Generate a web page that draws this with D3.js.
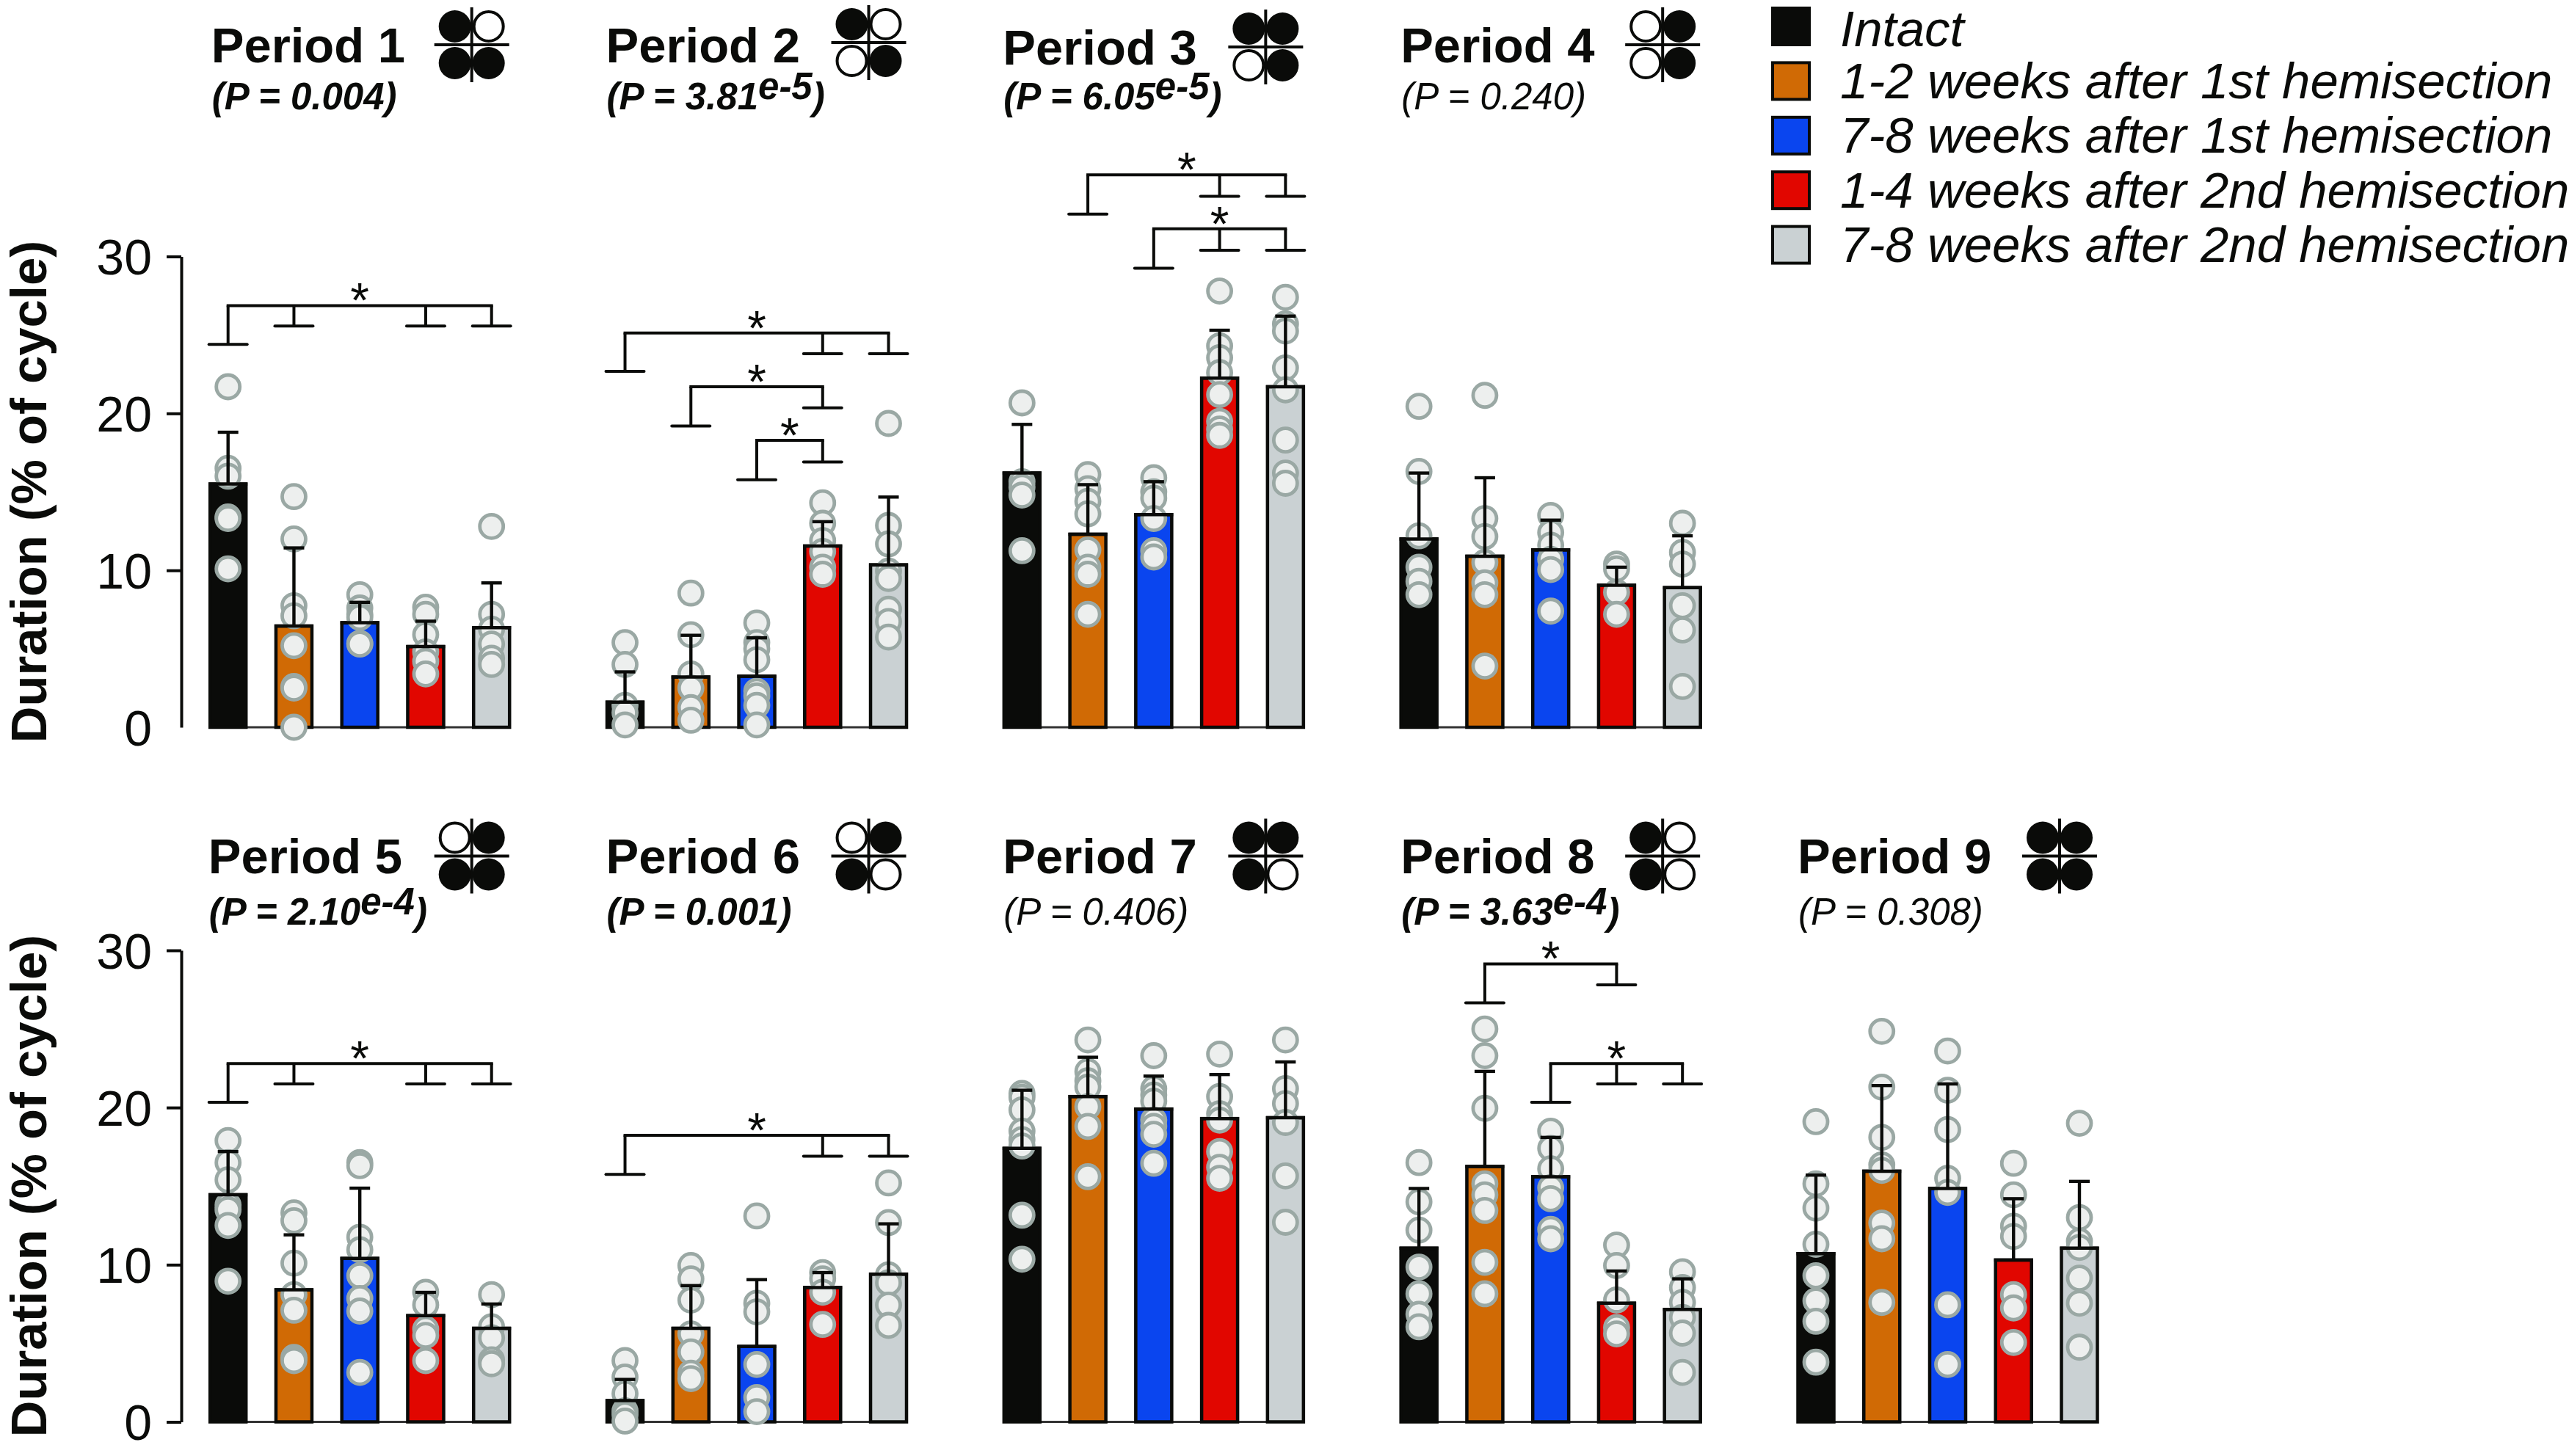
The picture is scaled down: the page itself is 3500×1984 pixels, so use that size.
<!DOCTYPE html>
<html>
<head>
  <meta charset="UTF-8">
  <title>Duration per period</title>
  <style>
    html, body { margin: 0; padding: 0; background: #fff; }
    svg { display: block; }
    text { font-family: "Liberation Sans", Arial, sans-serif; fill: #0a0b09; }
  </style>
</head>
<body>
  <svg id="chart" width="3500" height="1984"></svg>
  <script src="https://d3js.org/d3.v7.min.js"></script>
  <script>
    var groups = ["Intact", "1-2 weeks after 1st hemisection", "7-8 weeks after 1st hemisection", "1-4 weeks after 2nd hemisection", "7-8 weeks after 2nd hemisection"];
    var groupColors = ["#0a0b09", "#d06a05", "#0a45ef", "#e10600", "#cad1d3"];

    var periods = ["Period 1", "Period 2", "Period 3", "Period 4", "Period 5", "Period 6", "Period 7", "Period 8", "Period 9"];
    var pValues = ["0.004", "3.81", "6.05", "0.240", "2.10", "0.001", "0.406", "3.63", "0.308"];
    var pExponents = ["", "e-5", "e-5", "", "e-4", "", "", "e-4", ""];
    var pSignificant = [true, true, true, false, true, true, false, true, false];

    // limb pattern next to each title: TL, TR, BL, BR (1 = filled circle)
    var footfalls = [
      [1, 0, 1, 1], [1, 0, 0, 1], [1, 1, 0, 1], [0, 1, 0, 1], [0, 1, 1, 1],
      [0, 1, 1, 0], [1, 1, 1, 0], [1, 0, 1, 0], [1, 1, 1, 1]
    ];

    var yTicks = [0, 10, 20, 30];

    var means = [
      [15.5, 6.45, 6.66, 5.14, 6.35],
      [1.6, 3.2, 3.25, 11.55, 10.35],
      [16.2, 12.3, 13.55, 22.25, 21.7],
      [12, 10.9, 11.3, 9.05, 8.9],
      [14.45, 8.4, 10.4, 6.76, 5.95],
      [1.35, 5.95, 4.8, 8.55, 9.4],
      [17.4, 20.7, 19.9, 19.3, 19.35],
      [11.05, 16.25, 15.6, 7.55, 7.15],
      [10.7, 15.95, 14.85, 10.3, 11.05]
    ];

    var errorTops = [
      [18.8, 11.43, 7.96, 6.76, 9.2],
      [3.53, 5.86, 5.7, 13.1, 14.67],
      [19.3, 15.46, 15.65, 25.3, 26.2],
      [16.2, 15.9, 13.2, 10.2, 12.2],
      [17.2, 11.9, 14.87, 8.24, 7.5],
      [2.7, 8.67, 9.05, 9.5, 12.6],
      [21.1, 23.2, 22, 22.1, 22.9],
      [14.85, 22.3, 18.1, 9.6, 9.1],
      [15.7, 21.4, 21.5, 14.2, 15.3]
    ];

    var points = [
      [
        [21.7, 16.5, 16, 13.4, 13.3, 10.1],
        [14.7, 12, 7.75, 7.1, 5.2, 2.6, 2.5, 0],
        [8.45, 7.6, 7.2, 7, 5.35, 5.3],
        [7.65, 7.2, 5.9, 4.8, 4.2, 3.4],
        [12.8, 7.2, 6.25, 5.3, 4.4, 4]
      ],
      [
        [5.4, 4, 1.4, 0.93, 0.15],
        [8.55, 5.9, 3.4, 2.5, 1.25, 0.45],
        [6.65, 5.4, 5, 4.3, 2.3, 2, 1.4, 0.15],
        [14.3, 13, 11.9, 11.2, 10.2, 9.75],
        [19.36, 12.86, 11.68, 9.95, 9.48, 7.52, 6.74, 5.75]
      ],
      [
        [20.67, 15.65, 15.3, 14.8, 11.25],
        [16.1, 15.2, 14.4, 13.6, 11.3, 10.2, 9.75, 7.2],
        [15.9, 15, 14.6, 13.3, 11.25, 10.85],
        [27.8, 24.3, 23.55, 22.6, 21.2, 19.5, 19, 18.6],
        [27.4, 25.7, 25.25, 22.9, 21.5, 18.3, 16.2, 15.55]
      ],
      [
        [20.45, 16.3, 12.2, 10.2, 9.3, 8.45],
        [21.15, 13.3, 12.15, 10.5, 9.2, 8.45, 3.9],
        [13.5, 12.4, 11.6, 10.7, 10.05, 7.4],
        [10.4, 10.1, 8.6, 7.2],
        [13, 11.15, 10.4, 7.75, 6.2, 2.6]
      ],
      [
        [17.9, 16.5, 15.4, 13.8, 13.5, 12.5, 8.95],
        [13.3, 12.8, 10.1, 8.1, 7.1, 4.1, 3.9],
        [16.5, 16.3, 11.75, 10.95, 9.3, 7.85, 7.05, 3.15],
        [8.25, 7.45, 5.9, 5.5, 3.9],
        [8.1, 6.05, 5.35, 3.95, 3.7]
      ],
      [
        [3.9, 2.85, 1.8, 0.7, 0.45, 0.05],
        [9.95, 9.1, 7.75, 5.6, 4.45, 3.1, 2.75],
        [13.1, 7.55, 7, 3.65, 1.55, 0.65],
        [9.5, 9.1, 8.25, 6.2],
        [15.2, 12.68, 9.36, 8.85, 7.43, 6.14]
      ],
      [
        [20.9, 20.65, 19.85, 18.5, 17.96, 17.55, 13.15, 10.35],
        [24.3, 22.3, 21.7, 21.3, 20.05, 18.8, 15.6],
        [23.3, 21.2, 20.8, 20.4, 19.2, 18.8, 18.3, 16.45],
        [23.4, 20.7, 19.6, 19.2, 17.2, 16.2, 15.5],
        [24.3, 21.2, 20.25, 19.05, 15.65, 12.7]
      ],
      [
        [16.5, 14, 12.2, 9.85, 8.15, 6.85, 6.05],
        [25, 23.3, 19.95, 15.15, 14.45, 13.45, 10.15, 8.15],
        [18.5, 17.4, 16.1, 14.9, 14.2, 12.25, 11.65],
        [11.25, 9.95, 7.75, 6, 5.6],
        [9.55, 8.55, 7.6, 6.65, 5.65, 3.15]
      ],
      [
        [19.1, 15.15, 13.6, 11.3, 9.3, 7.7, 6.4, 3.8],
        [24.85, 21.3, 18.1, 16.35, 16, 12.65, 11.65, 7.6],
        [23.6, 21.1, 18.6, 15.5, 14.6, 7.45, 3.65],
        [16.45, 14.45, 12.45, 11.8, 8.1, 7.25, 5.05],
        [19, 13, 11.5, 11.1, 9.15, 7.55, 4.75]
      ]
    ];

    // significance brackets per period: line value, then [bar index, value where the drop ends]
    var brackets = [
      [{top: 26.87, drops: [[0, 24.4], [1, 25.57], [3, 25.57], [4, 25.57]]}],
      [
        {top: 25.13, drops: [[0, 22.68], [3, 23.8], [4, 23.8]]},
        {top: 21.7, drops: [[1, 19.2], [3, 20.36]]},
        {top: 18.28, drops: [[2, 15.77], [3, 16.9]]}
      ],
      [
        {top: 35.2, drops: [[1, 32.7], [3, 33.84], [4, 33.84]]},
        {top: 31.76, drops: [[2, 29.25], [3, 30.4], [4, 30.4]]}
      ],
      [],
      [{top: 22.8, drops: [[0, 20.33], [1, 21.5], [3, 21.5], [4, 21.5]]}],
      [{top: 18.23, drops: [[0, 15.75], [3, 16.9], [4, 16.9]]}],
      [],
      [
        {top: 29.14, drops: [[1, 26.66], [3, 27.8]]},
        {top: 22.8, drops: [[2, 20.33], [3, 21.5], [4, 21.5]]}
      ],
      []
    ];

    var svg = d3.select("#chart");

    var barW = 49;
    var rowOf = function(i) { return i < 4 ? 0 : 1; };
    var colOf = function(i) { return i < 4 ? i : i - 4; };

    var xPanel = d3.scalePoint().domain([0, 1, 2, 3, 4]).range([310.7, 2474]);
    var xBar = d3.scalePoint().domain([0, 1, 2, 3, 4]).range([0, 359]);

    var rowY = [
      d3.scaleLinear().domain([0, 30]).range([991, 349.5]),
      d3.scaleLinear().domain([0, 30]).range([1937.5, 1295])
    ];

    var titleY = [85, 1189.5];
    var pTextY = [149, 1260];
    var iconY = [61, 1166.5];
    var headerNudge = [0, -3, 3, 0, 0, 0, 0, 0, 0];
    var headerDx = [0, -3, -3, -2, -4, -3, -3, -2, -2];

    // y axes, only on the first panel of each row
    [0, 1].forEach(function(r) {
      var axis = svg.append("g")
        .attr("class", "axis")
        .attr("transform", "translate(247,0)")
        .call(d3.axisLeft(rowY[r]).tickValues(yTicks).tickFormat(d3.format("d")).tickSize(20).tickSizeOuter(0).tickPadding(20));
      axis.selectAll("path.domain").attr("stroke", "#0a0b09").attr("stroke-width", 4);
      axis.selectAll(".tick line").attr("stroke", "#0a0b09").attr("stroke-width", 4);
      axis.selectAll(".tick text").style("font-size", "68px").attr("fill", "#0a0b09").attr("dy", "0.36em");
      if (r == 0) axis.selectAll(".tick line").filter(function(d) { return d == 0; }).remove();

      svg.append("text")
        .attr("transform", "translate(63," + (r == 0 ? 670 : 1616) + ") rotate(-90)")
        .attr("text-anchor", "middle")
        .style("font-size", "68.8px")
        .style("font-weight", "bold")
        .text("Duration (% of cycle)");
    });

    periods.forEach(function(name, i) {
      var r = rowOf(i), y = rowY[r], px = xPanel(colOf(i));
      var g = svg.append("g").attr("class", "panel").attr("transform", "translate(" + px + ",0)");
      var nudge = headerNudge[i];

      // header
      g.append("text")
        .attr("x", -23 + headerDx[i]).attr("y", titleY[r] + (nudge > 0 ? nudge : 0))
        .style("font-size", "67px").style("font-weight", "bold")
        .text(name);

      var p = g.append("text")
        .attr("x", -22 + headerDx[i]).attr("y", pTextY[r])
        .style("font-size", "51px").style("font-style", "italic")
        .style("font-weight", pSignificant[i] ? "bold" : "normal");
      p.append("tspan").text("(P = " + pValues[i]);
      if (pExponents[i]) {
        p.append("tspan").attr("dy", -14).text(pExponents[i]);
        p.append("tspan").attr("dy", 14).text(")");
      } else {
        p.append("tspan").text(")");
      }

      var icon = g.append("g").attr("transform", "translate(332," + (iconY[r] + nudge) + ")");
      var qx = [-23, 23, -23, 23], qy = [-25, -25, 25, 25];
      icon.selectAll("circle")
        .data(footfalls[i])
        .enter().append("circle")
          .attr("cx", function(d, k) { return qx[k]; })
          .attr("cy", function(d, k) { return qy[k]; })
          .attr("r", function(d) { return d ? 22 : 20; })
          .attr("fill", function(d) { return d ? "#0a0b09" : "#fff"; })
          .attr("stroke", function(d) { return d ? "none" : "#0a0b09"; })
          .attr("stroke-width", 4);
      icon.append("line").attr("x1", -51).attr("x2", 51).attr("stroke", "#0a0b09").attr("stroke-width", 4);
      icon.append("line").attr("y1", -51).attr("y2", 51).attr("stroke", "#0a0b09").attr("stroke-width", 4);

      // thin baseline between the bars
      g.append("line")
        .attr("x1", xBar(0)).attr("x2", xBar(4))
        .attr("y1", y(0)).attr("y2", y(0))
        .attr("stroke", "#333").attr("stroke-width", 3);

      var bars = g.selectAll(".bar")
        .data(means[i])
        .enter().append("g")
          .attr("class", "bar")
          .attr("transform", function(d, k) { return "translate(" + xBar(k) + ",0)"; });

      bars.append("rect")
        .attr("x", -barW / 2)
        .attr("y", function(d) { return y(d); })
        .attr("width", barW)
        .attr("height", function(d) { return y(0) - y(d); })
        .attr("fill", function(d, k) { return groupColors[k]; })
        .attr("stroke", "#0a0b09")
        .attr("stroke-width", 4.5);

      bars.selectAll("circle")
        .data(function(d, k) { return points[i][k]; })
        .enter().append("circle")
          .attr("cy", function(d) { return y(d); })
          .attr("r", 16)
          .attr("fill", "#edefee")
          .attr("stroke", "#9aa8a4")
          .attr("stroke-width", 4.8);

      // top edge and error bar sit over the points
      bars.append("line")
        .attr("x1", -barW / 2 - 2).attr("x2", barW / 2 + 2)
        .attr("y1", function(d) { return y(d); }).attr("y2", function(d) { return y(d); })
        .attr("stroke", "#0a0b09").attr("stroke-width", 4.5);
      bars.append("line")
        .attr("y1", function(d) { return y(d); })
        .attr("y2", function(d, k) { return y(errorTops[i][k]); })
        .attr("stroke", "#0a0b09").attr("stroke-width", 4.4);
      bars.append("line")
        .attr("x1", -14).attr("x2", 14)
        .attr("y1", function(d, k) { return y(errorTops[i][k]); })
        .attr("y2", function(d, k) { return y(errorTops[i][k]); })
        .attr("stroke", "#0a0b09").attr("stroke-width", 4.4);

      // significance brackets
      brackets[i].forEach(function(b) {
        var first = b.drops[0][0], last = b.drops[b.drops.length - 1][0];
        g.append("line")
          .attr("x1", xBar(first) - 2).attr("x2", xBar(last) + 2)
          .attr("y1", y(b.top)).attr("y2", y(b.top))
          .attr("stroke", "#0a0b09").attr("stroke-width", 4);
        b.drops.forEach(function(d) {
          g.append("line")
            .attr("x1", xBar(d[0])).attr("x2", xBar(d[0]))
            .attr("y1", y(b.top)).attr("y2", y(d[1]))
            .attr("stroke", "#0a0b09").attr("stroke-width", 4);
          g.append("line")
            .attr("x1", xBar(d[0]) - 26).attr("x2", xBar(d[0]) + 26)
            .attr("y1", y(d[1])).attr("y2", y(d[1]))
            .attr("stroke", "#0a0b09").attr("stroke-width", 4)
            .attr("stroke-linecap", "round");
        });
        g.append("text")
          .attr("x", (xBar(first) + xBar(last)) / 2)
          .attr("y", y(b.top) + 16)
          .attr("text-anchor", "middle")
          .style("font-size", "66px")
          .text("*");
      });
    });

    // legend
    var legend = svg.selectAll(".legend")
      .data(groups)
      .enter().append("g")
        .attr("class", "legend")
        .attr("transform", function(d, i) { return "translate(2413," + (9 + i * 74.4) + ")"; });

    legend.append("rect")
      .attr("x", 2).attr("y", 2)
      .attr("width", 50).attr("height", 50)
      .attr("fill", function(d, i) { return groupColors[i]; })
      .attr("stroke", "#0a0b09")
      .attr("stroke-width", 4);

    legend.append("text")
      .attr("x", 94)
      .attr("y", function(d, i) { return i == 0 ? 54 : 50.5; })
      .style("font-size", "69px")
      .style("font-style", "italic")
      .text(function(d) { return d; });
  </script>
</body>
</html>
